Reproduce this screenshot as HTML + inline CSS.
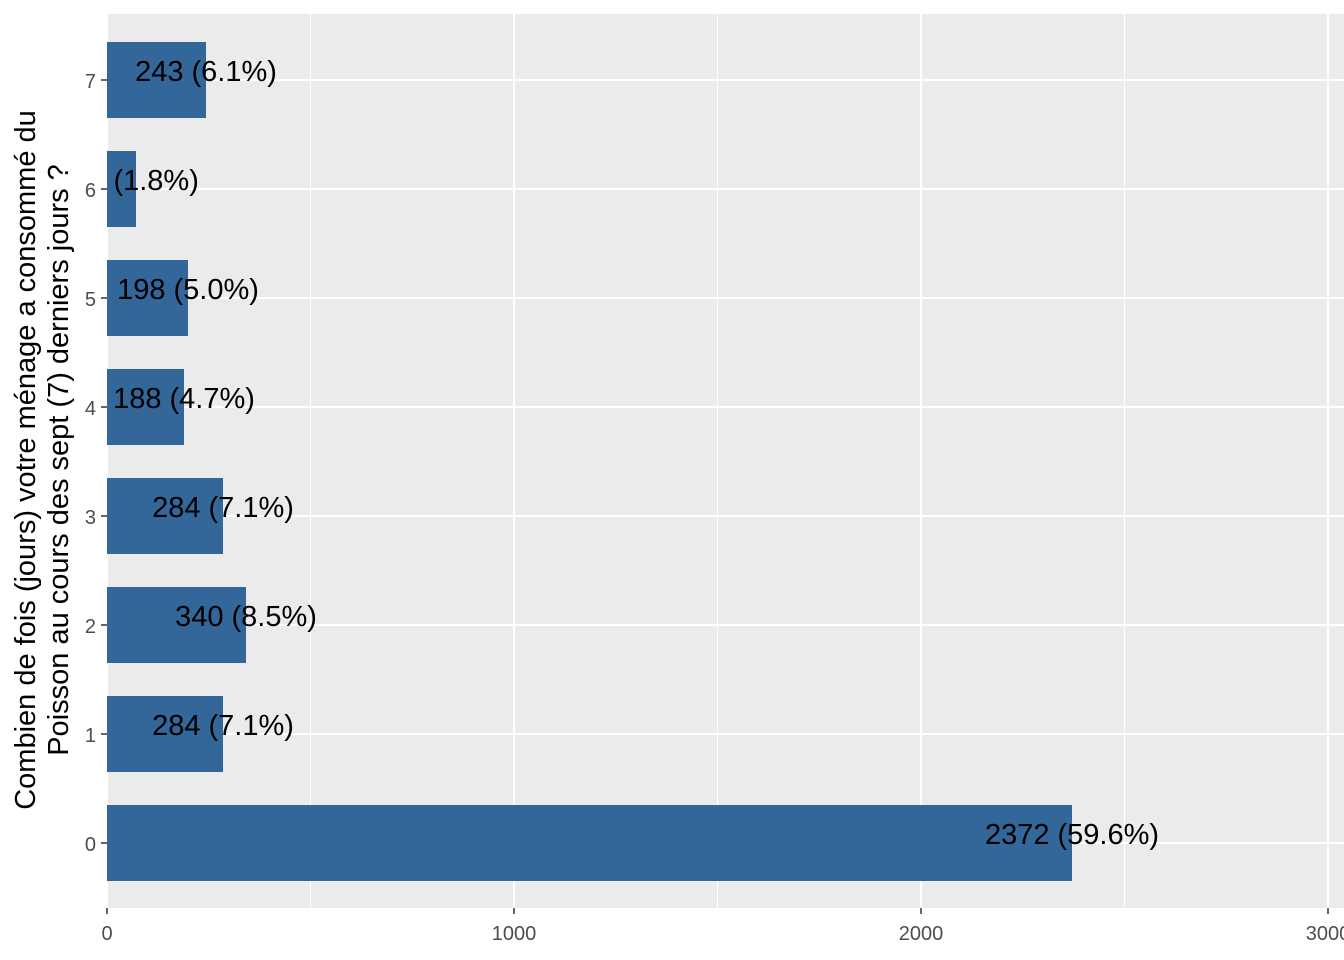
<!DOCTYPE html>
<html><head><meta charset="utf-8"><style>
html,body{margin:0;padding:0;background:#fff;}
svg{display:block;font-family:"Liberation Sans",Arial,sans-serif;}
</style></head><body>
<svg width="1344" height="960" viewBox="0 0 1344 960" xmlns="http://www.w3.org/2000/svg">
<defs><clipPath id="p"><rect x="107" y="14" width="1237" height="894"/></clipPath></defs>
<rect x="107" y="14" width="1237" height="894" fill="#EBEBEB"/>
<g stroke="#fff" stroke-width="1">
<line x1="310.5" y1="14" x2="310.5" y2="908"/>
<line x1="717.5" y1="14" x2="717.5" y2="908"/>
<line x1="1124.5" y1="14" x2="1124.5" y2="908"/>
</g>
<g stroke="#fff" stroke-width="2">
<line x1="107" y1="14" x2="107" y2="908"/>
<line x1="514" y1="14" x2="514" y2="908"/>
<line x1="921" y1="14" x2="921" y2="908"/>
<line x1="1328" y1="14" x2="1328" y2="908"/>
<line x1="107" y1="80" x2="1344" y2="80"/>
<line x1="107" y1="189" x2="1344" y2="189"/>
<line x1="107" y1="298" x2="1344" y2="298"/>
<line x1="107" y1="407" x2="1344" y2="407"/>
<line x1="107" y1="516" x2="1344" y2="516"/>
<line x1="107" y1="625" x2="1344" y2="625"/>
<line x1="107" y1="734" x2="1344" y2="734"/>
<line x1="107" y1="843" x2="1344" y2="843"/>
</g>
<g fill="#336699">
<rect x="107" y="42" width="99" height="76"/>
<rect x="107" y="151" width="29" height="76"/>
<rect x="107" y="260" width="81" height="76"/>
<rect x="107" y="369" width="77" height="76"/>
<rect x="107" y="478" width="116" height="76"/>
<rect x="107" y="587" width="139" height="76"/>
<rect x="107" y="696" width="116" height="76"/>
<rect x="107" y="805" width="965" height="76"/>
</g>
<g clip-path="url(#p)" font-size="29" fill="#000" text-anchor="middle">
<text x="206" y="81">243 (6.1%)</text>
<text x="136" y="190">71 (1.8%)</text>
<text x="188" y="299">198 (5.0%)</text>
<text x="184" y="408">188 (4.7%)</text>
<text x="223" y="517">284 (7.1%)</text>
<text x="246" y="626">340 (8.5%)</text>
<text x="223" y="735">284 (7.1%)</text>
<text x="1072" y="844">2372 (59.6%)</text>
</g>
<g stroke="#333" stroke-width="1.5">
<line x1="101" y1="80" x2="107" y2="80"/><line x1="101" y1="189" x2="107" y2="189"/>
<line x1="101" y1="298" x2="107" y2="298"/><line x1="101" y1="407" x2="107" y2="407"/>
<line x1="101" y1="516" x2="107" y2="516"/><line x1="101" y1="625" x2="107" y2="625"/>
<line x1="101" y1="734" x2="107" y2="734"/><line x1="101" y1="843" x2="107" y2="843"/>
<line x1="107" y1="908" x2="107" y2="914"/><line x1="514" y1="908" x2="514" y2="914"/>
<line x1="921" y1="908" x2="921" y2="914"/><line x1="1328" y1="908" x2="1328" y2="914"/>
</g>
<g font-size="20" fill="#4D4D4D" text-anchor="end">
<text x="96" y="88">7</text><text x="96" y="197">6</text><text x="96" y="306">5</text>
<text x="96" y="415">4</text><text x="96" y="524">3</text><text x="96" y="633">2</text>
<text x="96" y="742">1</text><text x="96" y="851">0</text>
</g>
<g font-size="20" fill="#4D4D4D" text-anchor="middle">
<text x="107" y="940">0</text><text x="514" y="940">1000</text>
<text x="921" y="940">2000</text><text x="1328" y="940">3000</text>
</g>
<g font-size="29" fill="#000" text-anchor="middle">
<text transform="translate(35,460) rotate(-90)">Combien de fois (jours) votre ménage a consommé du</text>
<text transform="translate(68,460) rotate(-90)">Poisson au cours des sept (7) derniers jours ?</text>
</g>
</svg>
</body></html>
